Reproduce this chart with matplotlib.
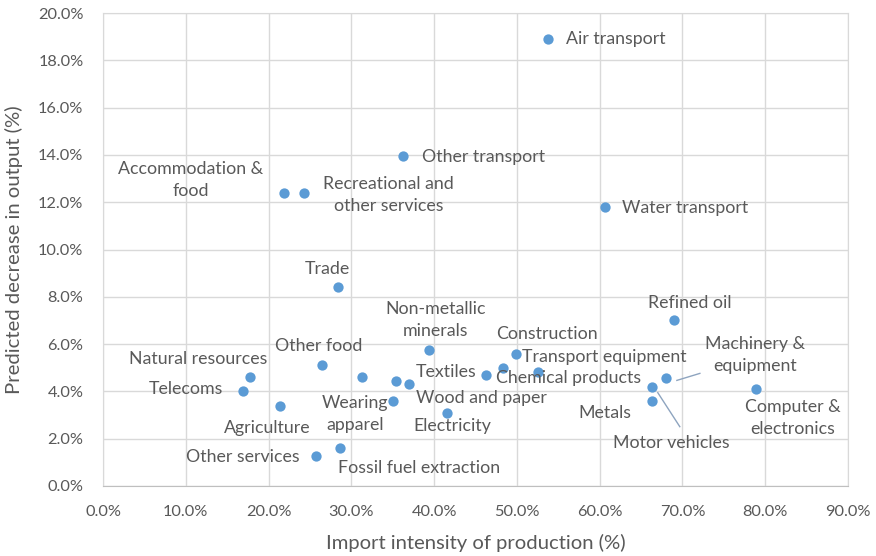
import matplotlib
matplotlib.use("Agg")
import matplotlib.pyplot as plt
from matplotlib.ticker import FuncFormatter

# ---- data (percent) ----
sectors = ["Air transport", "Other transport", "Accommodation &\nfood",
           "Recreational and\nother services", "Water transport", "Trade",
           "Refined oil", "Non-metallic\nminerals", "Construction",
           "Transport equipment", "Chemical products", "Textiles",
           "Machinery &\nequipment", "Motor vehicles", "Metals",
           "Computer &\nelectronics", "Wood and paper", "Electricity",
           "Wearing\napparel", "Agriculture", "Other food",
           "Natural resources", "Telecoms", "Other services",
           "Fossil fuel extraction", "", ""]
import_intensity = [53.7, 36.2, 21.9, 24.3, 60.6, 28.4, 69.0, 39.4, 49.9,
                    48.3, 52.5, 46.3, 68.0, 66.3, 66.3, 78.9, 37.0, 41.5,
                    35.0, 21.4, 26.4, 17.8, 16.9, 25.7, 28.6, 31.3, 35.4]
output_decrease = [18.9, 13.95, 12.4, 12.4, 11.8, 8.4, 7.0, 5.75, 5.6,
                   5.0, 4.8, 4.7, 4.55, 4.2, 3.6, 4.1, 4.3, 3.1,
                   3.6, 3.4, 5.1, 4.6, 4.0, 1.27, 1.6, 4.6, 4.45]

x_ticks = [0, 10, 20, 30, 40, 50, 60, 70, 80, 90]
y_ticks = [0, 2, 4, 6, 8, 10, 12, 14, 16, 18, 20]

# ---- label placement (offset pixels, ha) ----
label_style = {
    "Air transport": ((18, 0), "left"),
    "Other transport": ((19, -1), "left"),
    "Accommodation &\nfood": ((-21, 13), "right"),
    "Recreational and\nother services": ((19, -2), "left"),
    "Water transport": ((17, -1), "left"),
    "Trade": ((-11, 18), "center"),
    "Refined oil": ((16, 17), "center"),
    "Non-metallic\nminerals": ((6, 30), "center"),
    "Construction": ((31, 20), "center"),
    "Transport equipment": ((19, 11), "left"),
    "Chemical products": ((31, -6), "center"),
    "Textiles": ((-40, 3), "center"),
    "Machinery &\nequipment": ((89, 23), "center"),
    "Motor vehicles": ((20, -56), "center"),
    "Metals": ((-47, -12), "center"),
    "Computer &\nelectronics": ((37, -29), "center"),
    "Wood and paper": ((72, -14), "center"),
    "Electricity": ((6, -13), "center"),
    "Wearing\napparel": ((-38, -13), "center"),
    "Agriculture": ((-13, -22), "center"),
    "Other food": ((-3, 19), "center"),
    "Natural resources": ((-52, 18), "center"),
    "Telecoms": ((-20, 2), "right"),
    "Other services": ((-16, -1), "right"),
    "Fossil fuel extraction": ((-2, -20), "left"),
}
leaders = {"Machinery &\nequipment": ((11, -2), (34, 5)),
           "Motor vehicles": ((6, -6), (28, -40))}

plt.rcParams['font.family'] = ['Lato', 'DejaVu Sans']
grey = "#595959"
blue = "#5B9BD5"

fig = plt.figure(figsize=(8.76, 5.56), dpi=100)
ax = fig.add_axes([0.1176, 0.1259, 0.968 - 0.1176, 0.9766 - 0.1259])
ax.set_xlim(0, 90)
ax.set_ylim(0, 20)

ax.scatter(import_intensity, output_decrease, s=55, color=blue, zorder=3,
           linewidths=0)

inv = ax.transData.inverted()
for name, xv, yv in zip(sectors, import_intensity, output_decrease):
    if not name:
        continue
    (dx, dy), ha = label_style[name]
    ax.annotate(name, (xv, yv), xytext=(dx, dy), textcoords='offset pixels',
                ha=ha, va='center', multialignment='center',
                linespacing=1.45, fontsize=12.8, color=grey, zorder=4)
    if name in leaders:
        (a, b), (c, d) = leaders[name]
        p0 = ax.transData.transform((xv, yv))
        s0 = inv.transform((p0[0] + a, p0[1] + b))
        s1 = inv.transform((p0[0] + c, p0[1] + d))
        ax.plot([s0[0], s1[0]], [s0[1], s1[1]], color="#8ea4bf", lw=1.0,
                zorder=2)

ax.set_xticks(x_ticks)
ax.set_yticks(y_ticks)
pct = FuncFormatter(lambda v, p: f"{v:.1f}%")
ax.xaxis.set_major_formatter(pct)
ax.yaxis.set_major_formatter(pct)
ax.grid(True, color="#d9d9d9", lw=1)
ax.set_axisbelow(True)
for s in ax.spines.values():
    s.set_color("#d9d9d9")
ax.spines['bottom'].set_color("#bfbfbf")
ax.tick_params(length=0, labelsize=11.8, labelcolor=grey, pad=14)
ax.set_xlabel("Import intensity of production (%)", fontsize=14.6,
              color=grey, va='center')
ax.set_ylabel("Predicted decrease in output (%)", fontsize=14.6,
              color=grey, va='center')
ax.xaxis.set_label_coords(0.5, -0.1205)
ax.yaxis.set_label_coords(-0.1195, 0.5)

fig.savefig("out.png", dpi=100)
